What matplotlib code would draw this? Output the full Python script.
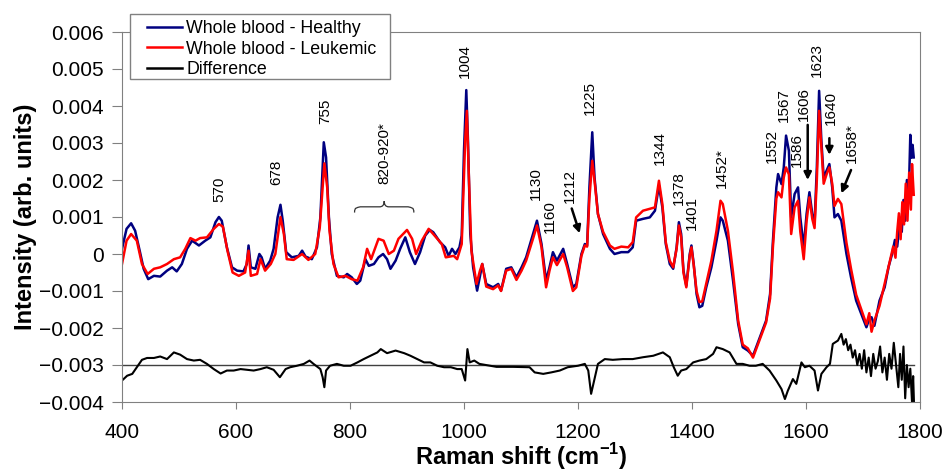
import matplotlib
matplotlib.use("Agg")
import matplotlib.pyplot as plt
from matplotlib.path import Path
from matplotlib.patches import PathPatch, Rectangle
from matplotlib.ticker import FuncFormatter, MultipleLocator

# ------------- data -------------
healthy_x = [400, 408, 416, 423, 431, 438, 446, 456, 467, 479, 488, 496, 505, 514, 523, 535, 546, 555, 564, 570,
             575, 584, 593, 602, 613, 619, 622, 626, 634, 641, 645, 651, 660, 666, 673, 678, 682, 688, 698, 710,
             716, 722, 733, 742, 748, 754, 758, 763, 768, 777, 789, 795, 803, 812, 818, 827, 833, 842, 850, 858,
             865, 871, 880, 888, 897, 905, 914, 923, 932, 940, 946, 958, 967, 973, 979, 985, 992, 996, 1000, 1004,
             1007, 1011, 1016, 1023, 1028, 1032, 1039, 1051, 1060, 1065, 1074, 1083, 1092, 1101, 1109, 1121, 1128, 1136, 1144, 1150,
             1156, 1163, 1174, 1181, 1191, 1197, 1206, 1212, 1216, 1220, 1225, 1229, 1235, 1244, 1256, 1264, 1276, 1288, 1296, 1302,
             1314, 1326, 1335, 1342, 1348, 1354, 1361, 1367, 1373, 1377, 1381, 1385, 1390, 1396, 1399, 1403, 1408, 1413, 1418, 1425,
             1434, 1443, 1450, 1454, 1463, 1472, 1481, 1489, 1498, 1507, 1519, 1530, 1537, 1542, 1548, 1551, 1557, 1561, 1565, 1570,
             1574, 1580, 1586, 1590, 1596, 1601, 1606, 1611, 1615, 1619, 1623, 1627, 1631, 1636, 1641, 1646, 1650, 1656, 1662, 1671,
             1679, 1688, 1697, 1706, 1711, 1715, 1720, 1729, 1738, 1745, 1751, 1756, 1760, 1765, 1768, 1771, 1774, 1777, 1780, 1783,
             1785, 1787, 1789]
healthy_y = [0.00014, 0.00068, 0.00083, 0.00063, 0.00009, -0.0004, -0.00068, -0.00059, -0.00061, -0.00045,
             -0.00036, -0.00047, -0.00027, 0.00014, 0.00036, 0.00023, 0.00036, 0.00045, 0.00086, 0.001,
             0.0009, 0.00018, -0.00036, -0.00045, -0.00047, -0.00027, 0.00023, -0.00036, -0.0004, 0.0,
             -0.00009, -0.0004, -0.00018, 0.00014, 0.00099, 0.00133, 0.0009, 0.00005, -0.00009, -0.00005,
             0.00009, -0.00007, -0.00014, 0.00018, 0.00099, 0.00302, 0.00261, 0.00099, 0.0, -0.00059,
             -0.00063, -0.00054, -0.00063, -0.00081, -0.00072, -0.00014, -0.00032, -0.00027, -0.00009, 0.0,
             -0.00014, -0.0004, -0.00018, 0.00014, 0.00045, 0.00005, -0.00027, 0.00005, 0.0005, 0.00065,
             0.00059, 0.00032, 0.00018, -0.00005, 0.00014, 0.0, 0.00018, 0.0005, 0.0028, 0.00443,
             0.00306, 0.00054, -0.00036, -0.00099, -0.0006, -0.00027, -0.00081, -0.0009, -0.00081, -0.00099,
             -0.0004, -0.00036, -0.00063, -0.00036, -0.00009, 0.00054, 0.0009, 0.00027, -0.00072, -0.00036,
             0.00005, -0.00018, 0.00014, -0.00027, -0.0009, -0.00081, 0.0, 0.00027, 0.00023, 0.0018,
             0.00329, 0.00207, 0.00108, 0.00054, 0.00014, 0.0, 0.00005, 0.00005, 0.00018, 0.0009,
             0.00095, 0.00099, 0.00117, 0.00185, 0.00126, 0.00027, -0.00027, -0.0004, 0.00018, 0.00086,
             0.00054, -0.00045, -0.00086, 0.0, 0.00023, -0.00027, -0.00108, -0.00144, -0.0014, -0.0009,
             -0.00036, 0.00036, 0.00099, 0.0009, 0.00036, -0.00072, -0.00189, -0.00252, -0.00261, -0.00275,
             -0.00225, -0.0018, -0.00108, 0.00036, 0.0018, 0.00216, 0.00189, 0.00234, 0.0032, 0.00279,
             0.00099, 0.00162, 0.0018, 0.00099, 0.00018, 0.00108, 0.00167, 0.00108, 0.00081, 0.00234,
             0.00441, 0.00306, 0.00207, 0.00225, 0.00243, 0.0018, 0.00099, 0.00108, 0.0009, 0.0,
             -0.00063, -0.00126, -0.00162, -0.00198, -0.00175, -0.00171, -0.00194, -0.00126, -0.0009, -0.00034,
             0.0, 0.00038, 0.0002, 0.00092, 0.0006, 0.00146, 0.0009, 0.002, 0.0014, 0.00322,
             0.0026, 0.00295, 0.00261]

leukemic_x = [400, 408, 416, 426, 435, 445, 456, 467, 479, 491, 502, 511, 520, 529, 537, 549, 561, 570, 577, 585,
              594, 605, 616, 622, 626, 637, 643, 651, 661, 669, 678, 684, 689, 701, 716, 727, 739, 747, 755, 760,
              764, 771, 780, 792, 803, 813, 823, 830, 837, 850, 859, 868, 877, 885, 900, 909, 916, 926, 938, 946,
              961, 968, 982, 988, 996, 1002, 1005, 1008, 1013, 1022, 1028, 1032, 1039, 1051, 1060, 1065, 1074, 1083, 1092, 1101,
              1109, 1121, 1128, 1136, 1144, 1150, 1156, 1163, 1174, 1181, 1191, 1197, 1206, 1212, 1216, 1220, 1225, 1229, 1235, 1244,
              1256, 1264, 1276, 1288, 1296, 1302, 1314, 1326, 1335, 1342, 1348, 1354, 1361, 1367, 1373, 1377, 1381, 1385, 1390, 1396,
              1399, 1403, 1408, 1413, 1418, 1425, 1434, 1443, 1450, 1454, 1463, 1472, 1481, 1489, 1498, 1507, 1519, 1530, 1537, 1542,
              1548, 1551, 1557, 1561, 1565, 1570, 1574, 1580, 1586, 1590, 1596, 1601, 1606, 1611, 1615, 1619, 1623, 1627, 1631, 1636,
              1641, 1646, 1650, 1656, 1662, 1671, 1679, 1688, 1697, 1706, 1711, 1715, 1720, 1729, 1738, 1747, 1753, 1757, 1760, 1763,
              1766, 1769, 1772, 1775, 1778, 1781, 1784, 1786, 1789]
leukemic_y = [-0.00027, 0.00036, 0.00054, 0.00036, -0.00027, -0.00054, -0.0004, -0.00036, -0.00027, -0.00014,
              -0.00009, 0.00014, 0.00043, 0.00036, 0.00043, 0.00045, 0.00068, 0.00081, 0.00074, 0.00009,
              -0.0005, -0.00059, -0.0005, 0.00009, -0.00059, -0.00054, -0.00014, -0.00045, -0.00027, 0.0,
              0.001, 0.00054, -0.00014, -0.00016, 0.0, -0.00016, 0.0, 0.00072, 0.00245, 0.0018,
              0.00063, -0.00027, -0.00063, -0.00059, -0.00068, -0.00072, -0.00036, 0.00014, -0.00014, 0.00041,
              0.00036, 0.0, 0.00009, 0.00041, 0.00065, 0.00041, 0.0, 0.00036, 0.00068, 0.00054,
              0.00027, -0.00009, -0.00005, -0.00014, 0.00027, 0.00306, 0.00387, 0.00234, 0.00009, -0.00081,
              -0.00045, -0.00027, -0.00088, -0.00095, -0.00085, -0.001, -0.00045, -0.0004, -0.0007, -0.00045,
              -0.00018, 0.00041, 0.00077, 0.00018, -0.0009, -0.00045, -0.00009, -0.0003, 0.0, -0.00036,
              -0.001, -0.0009, -0.00005, 0.00023, 0.0002, 0.0015, 0.00252, 0.00198, 0.00108, 0.0006,
              0.00023, 0.00014, 0.0002, 0.00018, 0.00032, 0.00099, 0.00117, 0.00122, 0.00126, 0.00198,
              0.00135, 0.00032, -0.00018, -0.00036, 0.00014, 0.00077, 0.00045, -0.0005, -0.0009, -0.00005,
              0.00018, -0.0003, -0.001, -0.0013, -0.00128, -0.0008, -0.00018, 0.00063, 0.00144, 0.00135,
              0.00063, -0.0005, -0.0018, -0.00245, -0.00255, -0.0028, -0.0023, -0.00185, -0.0012, 0.0002,
              0.0015, 0.00167, 0.00153, 0.00207, 0.00234, 0.00215, 0.00054, 0.00126, 0.00144, 0.0006,
              -0.00014, 0.00088, 0.00153, 0.00095, 0.0007, 0.002, 0.00387, 0.0029, 0.0019, 0.00215,
              0.00234, 0.0019, 0.0013, 0.00149, 0.00135, 0.0003, -0.0004, -0.0011, -0.0015, -0.0019,
              -0.0016, -0.0021, -0.0018, -0.0014, -0.0008, -0.0002, 0.0002, -0.0001, 0.0006, 0.0011,
              0.0004, 0.0014, 0.0008, 0.0019, 0.0009, 0.0022, 0.0012, 0.00243, 0.0016]

diff_x = [400, 409, 418, 426, 435, 444, 456, 467, 479, 491, 502, 514, 526, 537, 549, 561, 573, 584, 596, 608,
          619, 631, 643, 654, 666, 677, 687, 695, 707, 719, 729, 736, 748, 752, 755, 758, 765, 777, 789, 801,
          813, 824, 836, 848, 854, 865, 880, 895, 906, 918, 930, 941, 953, 965, 977, 988, 996, 1002, 1006, 1010,
          1018, 1027, 1057, 1086, 1115, 1124, 1139, 1153, 1168, 1182, 1200, 1212, 1218, 1223, 1227, 1235, 1247, 1261, 1279, 1296,
          1314, 1332, 1349, 1361, 1368, 1375, 1381, 1390, 1402, 1413, 1425, 1437, 1443, 1454, 1466, 1478, 1489, 1501, 1512, 1524,
          1536, 1548, 1557, 1563, 1568, 1577, 1583, 1592, 1598, 1606, 1615, 1621, 1627, 1636, 1642, 1647, 1656, 1662, 1666, 1670,
          1674, 1678, 1682, 1686, 1690, 1694, 1698, 1702, 1706, 1710, 1714, 1718, 1722, 1726, 1730, 1734, 1738, 1742, 1746, 1750,
          1754, 1758, 1762, 1765, 1768, 1771, 1774, 1777, 1780, 1783, 1786, 1788, 1790]
diff_y = [-0.00342, -0.00329, -0.00324, -0.00306, -0.00286, -0.00281, -0.00281, -0.00277, -0.00284, -0.00266,
          -0.00272, -0.00284, -0.00288, -0.00286, -0.00297, -0.00311, -0.00323, -0.00315, -0.00315, -0.00311,
          -0.00313, -0.00315, -0.00311, -0.00306, -0.00313, -0.00333, -0.00311, -0.00306, -0.00302, -0.00297,
          -0.00288, -0.00297, -0.00311, -0.00333, -0.0036, -0.00315, -0.00302, -0.00297, -0.00302, -0.00302,
          -0.00293, -0.00284, -0.00275, -0.00266, -0.00257, -0.00268, -0.00261, -0.00268, -0.00275, -0.00284,
          -0.00293, -0.00293, -0.00302, -0.00306, -0.00306, -0.00311, -0.00311, -0.00342, -0.00257, -0.00293,
          -0.00288, -0.00297, -0.00305, -0.00305, -0.00306, -0.0032, -0.00324, -0.0032, -0.00315, -0.00306,
          -0.00302, -0.00297, -0.00315, -0.00378, -0.00351, -0.00297, -0.00284, -0.00286, -0.00284, -0.00284,
          -0.00279, -0.00275, -0.00266, -0.00279, -0.00306, -0.00329, -0.00315, -0.00311, -0.00293, -0.00288,
          -0.00284, -0.0027, -0.00252, -0.00257, -0.00266, -0.00297, -0.00297, -0.00302, -0.00302, -0.00297,
          -0.00315, -0.00342, -0.00365, -0.00392, -0.0037, -0.00338, -0.00351, -0.00293, -0.00306, -0.00302,
          -0.00315, -0.00369, -0.00324, -0.00306, -0.00297, -0.00243, -0.00234, -0.00216, -0.00245, -0.0023,
          -0.0026, -0.00245, -0.0028, -0.0026, -0.003, -0.0027, -0.0031, -0.0026, -0.0032, -0.0028,
          -0.0033, -0.0027, -0.0031, -0.0029, -0.0025, -0.0032, -0.0028, -0.0034, -0.0027, -0.0031,
          -0.0024, -0.003, -0.0036, -0.0027, -0.0034, -0.0025, -0.0039, -0.003, -0.0036, -0.0031,
          -0.004, -0.0033, -0.0043]

ref_line_x = [400, 1790]
ref_line_y = [-0.003, -0.003]

# peak labels (rotated text), with where they sit
peak_labels = ["570", "678", "755", "820-920*", "1004", "1130", "1160", "1212", "1225", "1344",
               "1378", "1401", "1452*", "1552", "1567", "1586", "1606", "1623", "1640", "1658*"]
peak_label_x = [570, 671, 756, 861, 1002, 1126, 1151, 1186, 1221, 1344,
                1377, 1400, 1452, 1540, 1562, 1584, 1596, 1619, 1644, 1680]
peak_label_y = [0.0014, 0.00187, 0.00351, 0.00188, 0.00475, 0.00146, 0.00057, 0.00139, 0.00376, 0.0024,
                0.00132, 0.00065, 0.00178, 0.00247, 0.00358, 0.00236, 0.0036, 0.00478, 0.00349, 0.00245]

# arrows: start -> end
arrow_start = [(1189, 0.00123), (1603, 0.00349), (1641, 0.00313), (1679, 0.00227)]
arrow_end = [(1203, 0.00056), (1603, 0.0020), (1641, 0.00268), (1662, 0.00164)]

# brace over the 820-920 region
brace_x = (808, 912)
brace_y = (0.00112, 0.00143)

# ------------- styling -------------
plt.rcParams['font.family'] = ['Liberation Sans', 'DejaVu Sans']
plt.rcParams['mathtext.fontset'] = 'custom'
plt.rcParams['mathtext.rm'] = 'Liberation Sans'
plt.rcParams['mathtext.bf'] = 'Liberation Sans:bold'
GREY = "#808080"

fig = plt.figure(figsize=(9.44, 4.74), dpi=100)
ax = fig.add_axes([122 / 944, 1 - 402 / 474, 798 / 944, 370 / 474])

# ------------- lines -------------
ax.plot(ref_line_x, ref_line_y, color="#404040", lw=1.0)
ax.plot(healthy_x, healthy_y, color="#000080", lw=1.8, label="Whole blood - Healthy")
ax.plot(leukemic_x, leukemic_y, color="#ff0000", lw=1.8, label="Whole blood - Leukemic")
ax.plot(diff_x, diff_y, color="black", lw=1.5, label="Difference")

# ------------- annotations -------------
for txt, x, y in zip(peak_labels, peak_label_x, peak_label_y):
    ax.text(x, y, txt, rotation=90, ha="center", va="bottom", fontsize=11)

for s, e in zip(arrow_start, arrow_end):
    ax.annotate("", xy=e, xytext=s,
                arrowprops=dict(arrowstyle="-|>", color="black", lw=1.8,
                                mutation_scale=11, shrinkA=0, shrinkB=0))

bx0, bx1 = brace_x
by0, by1 = brace_y
bm = (bx0 + bx1) / 2
bh = (by0 + by1) / 2
verts = [(bx0, by0), (bx0, bh), (bx0 + 4, bh - 0.00003), (bx0 + 10, bh),
         (bm - 8, bh), (bm, bh), (bm, by1),
         (bm, bh), (bm + 8, bh),
         (bx1 - 10, bh), (bx1 - 4, bh - 0.00003), (bx1, bh), (bx1, by0)]
codes = [Path.MOVETO, Path.CURVE4, Path.CURVE4, Path.CURVE4,
         Path.LINETO, Path.CURVE3, Path.CURVE3,
         Path.CURVE3, Path.CURVE3,
         Path.LINETO, Path.CURVE4, Path.CURVE4, Path.CURVE4]
ax.add_patch(PathPatch(Path(verts, codes), facecolor="none", edgecolor="#333333", lw=0.9))

# ------------- axes -------------
ax.set_xlim(400, 1800)
ax.set_ylim(-0.004, 0.006)
ax.xaxis.set_major_locator(MultipleLocator(200))
ax.yaxis.set_major_locator(MultipleLocator(0.001))
ax.yaxis.set_major_formatter(FuncFormatter(lambda v, p: "0" if abs(v) < 1e-9 else f"{v:.3f}".replace("-", "\u2212")))
for sp in ax.spines.values():
    sp.set_color(GREY)
ax.tick_params(axis="both", colors=GREY, labelcolor="black", labelsize=15, direction="out")
ax.tick_params(axis="y", length=7, pad=6)
ax.tick_params(axis="x", length=5, pad=10)

ax.set_xlabel(r"Raman shift (cm$^{\mathbf{-1}}$)", fontsize=17, fontweight="bold", va="baseline")
ax.set_ylabel("Intensity (arb. units)", fontsize=17, fontweight="bold")
ax.xaxis.set_label_coords(0.5, -(465 - 402) / 370)
ax.yaxis.set_label_coords(-0.107, 0.5)

# ------------- legend -------------
# box drawn on its own so the padding can match
ax.add_patch(Rectangle((130 / 944, 1 - 79 / 474), 260 / 944, 65 / 474, transform=fig.transFigure,
                       facecolor="white", edgecolor=GREY, lw=1.0, zorder=4, clip_on=False))
leg = ax.legend(loc="upper left", bbox_to_anchor=(147 / 944, 1 - 20 / 474),
                bbox_transform=fig.transFigure, borderaxespad=0, borderpad=0, frameon=False,
                fontsize=12.8, handlelength=1.95, handletextpad=0.27, labelspacing=0.2)
leg.set_zorder(6)
for line in leg.get_lines():
    line.set_linewidth(1.8)

fig.savefig("out.png", dpi=100)
